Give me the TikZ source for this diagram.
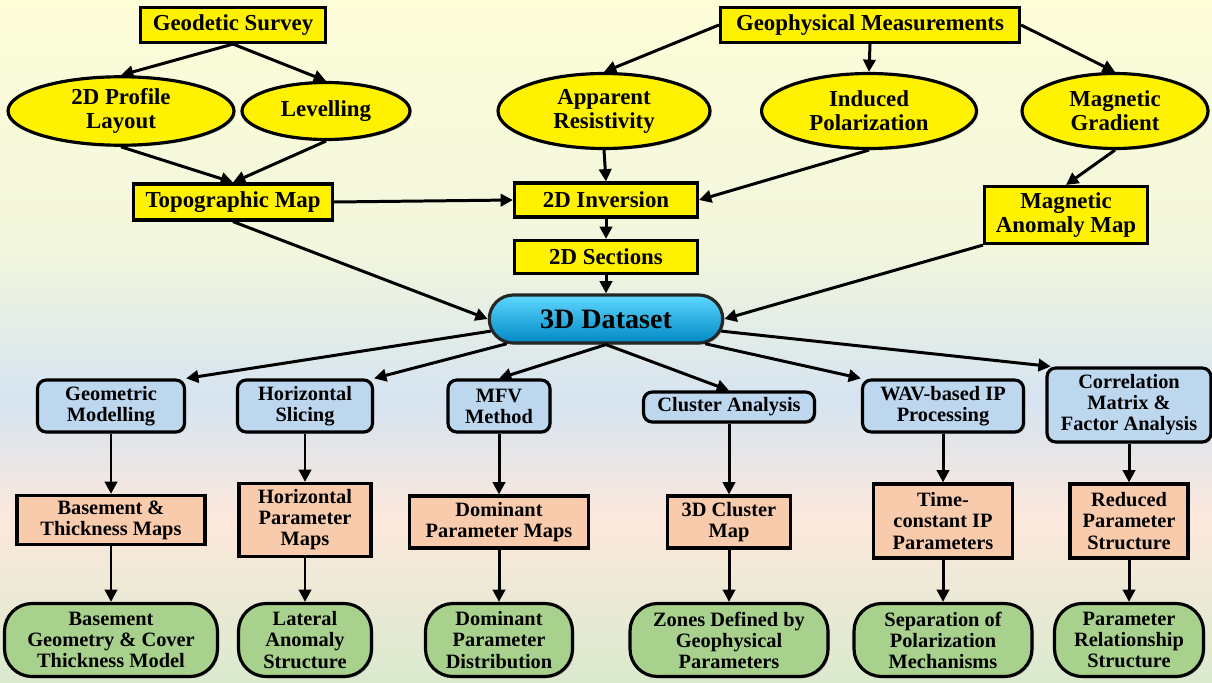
\documentclass[tikz,border=0pt]{standalone}
\usepackage{fontspec}
\setmainfont{Liberation Serif}
\usetikzlibrary{shapes.geometric,shapes.misc,arrows.meta,shadows}

\definecolor{bgyellow}{HTML}{FDFDD8}
\definecolor{bgpale}{HTML}{F2F6DD}
\definecolor{bgblue}{HTML}{D6E4F1}
\definecolor{bgpeach}{HTML}{FCE8DC}
\definecolor{bggreen}{HTML}{DAEACE}
\definecolor{methodblue}{HTML}{BDD7EE}
\definecolor{mapsorange}{HTML}{F8CBAD}
\definecolor{resultgreen}{HTML}{A9D18E}
\definecolor{cubelight}{HTML}{5ED8FF}
\definecolor{cubemid}{HTML}{00B2F0}
\definecolor{cubedark}{HTML}{0088C4}

\begin{document}
\begin{tikzpicture}[x=0.02cm, y=-0.02cm,
    flow/.style={-{Triangle[length=7pt,width=7pt]}, line width=1.7pt},
    base/.style={draw=black, line width=1.8pt, align=center, inner sep=1pt,
      font=\bfseries\fontsize{13}{13.6}\selectfont,
      drop shadow={shadow xshift=1pt, shadow yshift=-1pt, opacity=0.35}},
    surveybox/.style={base, rectangle, fill=yellow},
    surveyoval/.style={base, ellipse, fill=yellow},
    cubebox/.style={base, rounded rectangle, top color=cubelight, middle color=cubemid,
      bottom color=cubedark, draw=black!85, font=\bfseries\fontsize{16}{17}\selectfont},
    methodbox/.style={base, rounded corners=5pt, fill=methodblue,
      font=\bfseries\fontsize{11.6}{12}\selectfont},
    mapbox/.style={base, rectangle, fill=mapsorange,
      font=\bfseries\fontsize{11.6}{12}\selectfont},
    resultbox/.style={base, rounded corners=0.55cm, fill=resultgreen,
      font=\bfseries\fontsize{11.6}{12}\selectfont, minimum height=1.46cm}]

    % background
    \useasboundingbox (0,0) rectangle (1212,682);
    \shade[top color=bgyellow, bottom color=bgpale] (0,0) rectangle (1212,250);
    \shade[top color=bgpale, bottom color=bgblue] (0,250) rectangle (1212,400);
    \shade[top color=bgblue, bottom color=bgpeach] (0,400) rectangle (1212,520);
    \shade[top color=bgpeach, bottom color=bggreen] (0,520) rectangle (1212,682);

    % data acquisition
    \node[surveybox, minimum width=3.7cm, minimum height=0.7cm] (gs) at (233,25) {Geodetic Survey};
    \node[surveybox, minimum width=5.98cm, minimum height=0.7cm] (gm) at (870,25) {Geophysical Measurements};
    \node[surveyoval, minimum width=4.52cm, minimum height=1.34cm] (prof) at (121,111) {2D Profile\\Layout};
    \node[surveyoval, minimum width=3.36cm, minimum height=1.14cm] (lev) at (326,111) {Levelling};
    \node[surveyoval, minimum width=4.24cm, minimum height=1.5cm] (ar) at (604,111) {Apparent\\Resistivity};
    \node[surveyoval, minimum width=4.3cm, minimum height=1.5cm] (ip) at (869,111) {Induced\\Polarization};
    \node[surveyoval, minimum width=3.72cm, minimum height=1.5cm] (mg) at (1115,111) {Magnetic\\Gradient};

    % processing
    \node[surveybox, minimum width=3.98cm, minimum height=0.72cm] (topo) at (233,202) {Topographic Map};
    \node[surveybox, minimum width=3.66cm, minimum height=0.68cm] (inv) at (606,200) {2D Inversion};
    \node[surveybox, minimum width=3.66cm, minimum height=0.66cm] (sec) at (606,257) {2D Sections};
    \node[surveybox, minimum width=3.26cm, minimum height=1.14cm] (mam) at (1066,215) {Magnetic\\Anomaly Map};
    \node[cubebox, minimum width=4.74cm, minimum height=0.96cm] (ds) at (606,319) {3D Dataset};

    % methods
    \node[methodbox, minimum width=2.94cm, minimum height=1.04cm] (geo) at (111,406) {Geometric\\Modelling};
    \node[methodbox, minimum width=2.7cm, minimum height=1.04cm] (hs) at (305,406) {Horizontal\\Slicing};
    \node[methodbox, minimum width=2.04cm, minimum height=1.04cm] (mfv) at (499,406) {MFV\\Method};
    \node[methodbox, minimum width=3.42cm, minimum height=0.6cm] (ca) at (729,407) {Cluster Analysis};
    \node[methodbox, minimum width=3.22cm, minimum height=1.04cm] (wav) at (943,406) {WAV-based IP\\Processing};
    \node[methodbox, minimum width=3.28cm, minimum height=1.48cm] (corr) at (1129,405) {Correlation\\Matrix \&\\Factor Analysis};

    % maps
    \node[mapbox, minimum width=3.76cm, minimum height=0.98cm] (bt) at (111,520) {Basement \&\\Thickness Maps};
    \node[mapbox, minimum width=2.64cm, minimum height=1.46cm] (hpm) at (305,520) {Horizontal\\Parameter\\Maps};
    \node[mapbox, minimum width=3.58cm, minimum height=1.04cm] (dpm) at (499,522) {Dominant\\Parameter Maps};
    \node[mapbox, minimum width=2.46cm, minimum height=1.04cm] (cm) at (729,522) {3D Cluster\\Map};
    \node[mapbox, minimum width=2.78cm, minimum height=1.48cm] (tc) at (943,521) {Time-\\constant IP\\Parameters};
    \node[mapbox, minimum width=2.36cm, minimum height=1.48cm] (rps) at (1129,521) {Reduced\\Parameter\\Structure};

    % results
    \node[resultbox, minimum width=4.26cm] (bg) at (111,640) {Basement\\Geometry \& Cover\\Thickness Model};
    \node[resultbox, minimum width=2.66cm] (las) at (305,640) {Lateral\\Anomaly\\Structure};
    \node[resultbox, minimum width=2.94cm] (dpd) at (499,640) {Dominant\\Parameter\\Distribution};
    \node[resultbox, minimum width=3.96cm] (zones) at (729,640) {Zones Defined by\\Geophysical\\Parameters};
    \node[resultbox, minimum width=3.56cm] (sep) at (943,640) {Separation of\\Polarization\\Mechanisms};
    \node[resultbox, minimum width=2.98cm] (prs) at (1129,640) {Parameter\\Relationship\\Structure};

    % upper connectors
    \draw[flow] (gs.south) -- (prof.north);
    \draw[flow] (gs.south) -- (lev.north);
    \draw[flow] (prof.south) -- (topo.north);
    \draw[flow] (lev.south) -- (topo.north);
    \draw[flow] (gm.west) -- (ar.north);
    \draw[flow] (gm.south) -- (ip.north);
    \draw[flow] (gm.east) -- (mg.north);
    \draw[flow] (topo.east) -- (inv.west);
    \draw[flow] (ar.south) -- (inv.north);
    \draw[flow] (ip.south) -- (inv.east);
    \draw[flow] (mg.south) -- (mam.north);
    \draw[flow] (inv.south) -- (sec.north);
    \draw[flow] (sec.south) -- (ds.north);
    \draw[flow] (topo.south) -- (ds.west);
    \draw[flow] (mam.south west) -- (ds.east);

    % dataset to methods
    \draw[flow] (ds.186) -- (geo.north east);
    \draw[flow] (ds.194) -- (hs.north east);
    \draw[flow] (ds.south) -- (mfv.north);
    \draw[flow] (ds.south) -- (ca.north);
    \draw[flow] (ds.346) -- (wav.north west);
    \draw[flow] (ds.354) -- ([xshift=3pt]corr.north west);

    % columns
    \foreach \m/\p/\r in {geo/bt/bg, hs/hpm/las, mfv/dpm/dpd, ca/cm/zones, wav/tc/sep, corr/rps/prs} {
      \draw[flow] (\m.south) -- (\p.north);
      \draw[flow] (\p.south) -- (\r.north);
    }
\end{tikzpicture}
\end{document}
